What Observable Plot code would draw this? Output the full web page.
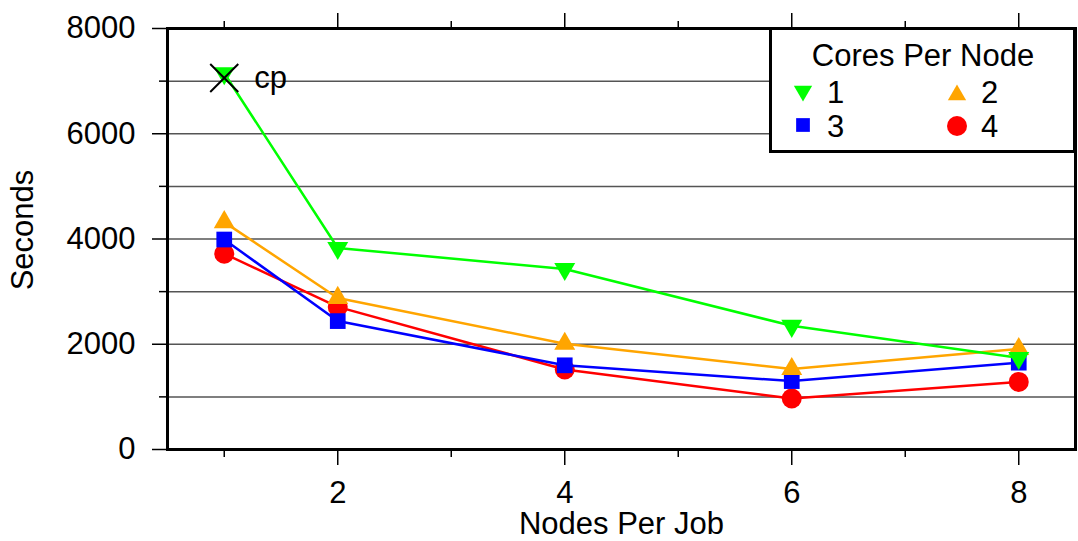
<!DOCTYPE html>
<html><head><meta charset="utf-8">
<script src="https://cdn.jsdelivr.net/npm/d3@7"></script>
<script src="https://cdn.jsdelivr.net/npm/@observablehq/plot@0.6"></script>
<style>
body{margin:0;background:#fff;}
#wrap{position:relative;width:1078px;height:541px;font-family:"Liberation Sans",Arial,sans-serif;}
#legend{position:absolute;left:0;top:0;}
</style></head><body><div id="wrap"></div>
<script>
const nodes = [1, 2, 4, 6, 8];
const seriesNames = ["1", "2", "3", "4"];
const cores1 = [7150, 3830, 3430, 2350, 1740];
const cores2 = [4320, 2880, 2010, 1530, 1910];
const cores3 = [3990, 2440, 1600, 1300, 1650];
const cores4 = [3720, 2710, 1520, 970, 1285];
const colors = ["#00ff00", "#ffa500", "#0000ff", "#ff0000"];
const yTicksMajor = [0, 2000, 4000, 6000, 8000];
const yTicksMinor = [1000, 3000, 5000, 7000];
const xTicksMajor = [2, 4, 6, 8];
const xTicksMinor = [1, 3, 5, 7];
const gridValues = [1000, 2000, 3000, 4000, 5000, 6000, 7000];
const cpPoint = [{x: 1, y: 7060, label: "cp"}];
const legendTitle = "Cores Per Node";
const xLabel = "Nodes Per Job";
const yLabel = "Seconds";

const triangleDown = {draw(ctx, size) {
  const s = Math.sqrt(size) * 0.6824, t = s / 2, u = s * Math.sqrt(3) / 2;
  ctx.moveTo(0, s); ctx.lineTo(-u, -t); ctx.lineTo(u, -t); ctx.closePath();
}};
const symbols = [triangleDown, "triangle2", "square2", "circle"];

const allSeries = [cores1, cores2, cores3, cores4].map((vals, i) =>
  nodes.map((n, j) => ({x: n, y: vals[j], s: seriesNames[i]})));

const FONT = "Liberation Sans, Arial, sans-serif";
const FS = 31;
const marks = [
  Plot.gridY(gridValues, {stroke: "#555", strokeOpacity: 1, strokeWidth: 1.5}),
];
for (const i of [3, 2, 1, 0]) {
  marks.push(Plot.line(allSeries[i], {x: "x", y: "y", stroke: colors[i], strokeWidth: 2.5}));
  marks.push(Plot.dot(allSeries[i], {x: "x", y: "y", fill: colors[i], symbol: () => symbols[i], r: 10, stroke: "none"}));
}
marks.push(
  Plot.dot(cpPoint, {x: "x", y: "y", symbol: "times", r: 12.8, stroke: "black", strokeWidth: 2}),
  Plot.text(cpPoint, {x: "x", y: "y", text: "label", dx: 30, textAnchor: "start", fontSize: FS, fill: "black"}),
  Plot.axisY(yTicksMajor, {tickSize: 15, tickPadding: 17, fontSize: FS, label: null, tickFormat: d => String(d), strokeWidth: 1.5}),
  Plot.axisY(yTicksMinor, {tickSize: 8, tickFormat: () => "", label: null, strokeWidth: 1.5}),
  Plot.axisX(xTicksMajor, {anchor: "bottom", tickSize: 16, tickPadding: 15, fontSize: FS, label: null, tickFormat: d => String(d), strokeWidth: 1.5}),
  Plot.axisX(xTicksMinor, {anchor: "bottom", tickSize: 8, tickFormat: () => "", label: null, strokeWidth: 1.5}),
  Plot.axisX(xTicksMajor, {anchor: "top", tickSize: 16, tickFormat: () => "", label: null, strokeWidth: 1.5}),
  Plot.axisX(xTicksMinor, {anchor: "top", tickSize: 8, tickFormat: () => "", label: null, strokeWidth: 1.5}),
  Plot.text([yLabel], {frameAnchor: "left", dx: -144, dy: -9, rotate: -90, textAnchor: "middle", lineAnchor: "middle", fontSize: FS, fill: "black"}),
  Plot.text([xLabel], {frameAnchor: "bottom", dy: 75, textAnchor: "middle", lineAnchor: "middle", fontSize: FS, fill: "black"}),
  Plot.frame({stroke: "black", strokeWidth: 3})
);

const chart = Plot.plot({
  width: 1078, height: 541,
  marginLeft: 167, marginRight: 3, marginTop: 28, marginBottom: 92,
  x: {domain: [0.5, 8.5]},
  y: {domain: [0, 8000]},
  style: {fontFamily: FONT, fontSize: FS + "px", color: "black", background: "white", overflow: "visible"},
  marks
});
const wrap = document.getElementById("wrap");
wrap.appendChild(chart);

// Legend overlay
const L = {x: 769, y: 27, w: 307, h: 126};
const svg = d3.select(wrap).append("svg").attr("id", "legend")
  .attr("width", 1078).attr("height", 541)
  .style("font-family", FONT).style("pointer-events", "none");
svg.append("rect").attr("x", L.x + 1.5).attr("y", L.y + 1.5).attr("width", L.w - 3).attr("height", L.h - 3)
  .attr("fill", "white").attr("stroke", "black").attr("stroke-width", 3);
svg.append("text").attr("x", 923).attr("y", 66).attr("text-anchor", "middle").attr("font-size", FS).text(legendTitle);
const legendPos = [[803, 91, 103], [957, 95, 103], [803, 125, 137], [957, 126, 137]];
seriesNames.forEach((name, i) => {
  const [cx, cy, by] = legendPos[i];
  const sym = typeof symbols[i] === "string"
    ? ({triangle2: d3.symbolTriangle2, square2: d3.symbolSquare2, circle: d3.symbolCircle})[symbols[i]]
    : symbols[i];
  const size = i === 3 ? 314 : 240;
  svg.append("path").attr("transform", `translate(${cx},${cy})`).attr("d", d3.symbol(sym, size)()).attr("fill", colors[i]);
  svg.append("text").attr("x", cx + 24).attr("y", by).attr("font-size", FS).text(name);
});
</script></body></html>
